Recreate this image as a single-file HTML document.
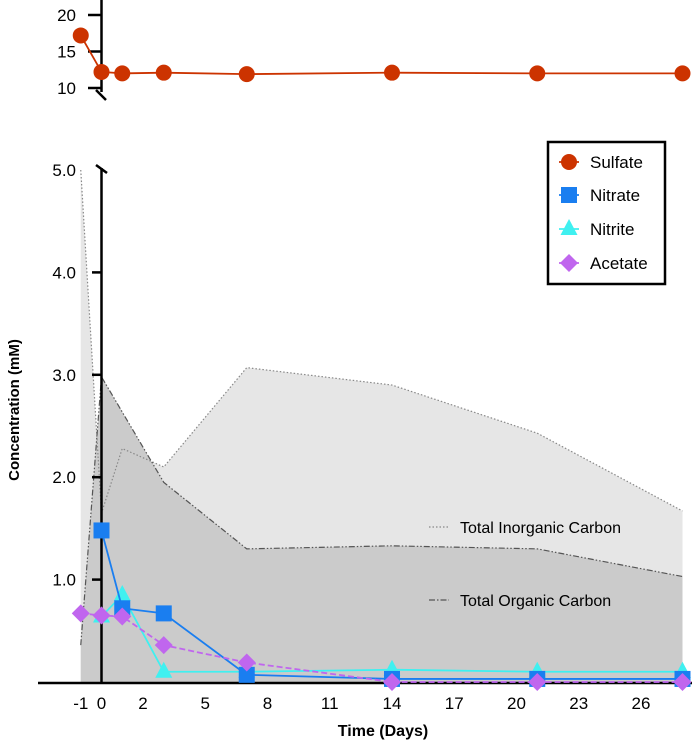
<!DOCTYPE html>
<html><head><meta charset="utf-8"><style>
body{margin:0;background:#fff;}
svg{display:block;font-family:"Liberation Sans",Arial,sans-serif;}
</style></head><body>
<svg id="c" width="692" height="740" xmlns="http://www.w3.org/2000/svg"></svg>
<script>
const days=[-1,0,1,3,7,14,21,28];
const sulfate=[17.2,12.2,12.0,12.1,11.9,12.1,12.0,12.0];
const nitrateDays=[0,1,3,7,14,21,28];
const nitrate=[1.48,0.72,0.67,0.07,0.03,0.03,0.03];
const nitriteDays=[0,1,3,7,14,21,28];
const nitrite=[0.64,0.85,0.1,0.1,0.12,0.1,0.1];
const acetateDays=[-1,0,1,3,7,14,21,28];
const acetate=[0.67,0.65,0.64,0.36,0.19,0.0,0.0,0.0];
const ticDays=[-1,0,1,3,7,14,21,28];
const tic=[5.0,1.65,2.28,2.1,3.07,2.9,2.43,1.67];
const tocDays=[-1,0,3,7,14,21,28];
const toc=[0.36,2.98,1.95,1.3,1.33,1.3,1.03];
const xTicks=[-1,0,2,5,8,11,14,17,20,23,26];
const yTicks=[1,2,3,4,5];
const yTickLabels=["1.0","2.0","3.0","4.0","5.0"];
const topTicks=[10,15,20];

const NS="http://www.w3.org/2000/svg";
const svg=document.getElementById('c');
const X=d=>101.5+d*20.75;
const Y=v=>682-v*102.4;
const YT=v=>88-(v-10)*7.3;
function el(tag,attrs,parent){const e=document.createElementNS(NS,tag);for(const k in attrs)e.setAttribute(k,attrs[k]);(parent||svg).appendChild(e);return e;}
function pts(xs,ys,fy){return xs.map((d,i)=>X(d)+','+fy(ys[i])).join(' ');}

let a=el('polygon',{points:pts(ticDays,tic,Y)+' '+X(28)+','+Y(0)+' '+X(-1)+','+Y(0),fill:'#e6e6e6'});

a=el('polygon',{points:pts(tocDays,toc,Y)+' '+X(28)+','+Y(0)+' '+X(-1)+','+Y(0),fill:'#cbcbcb'});

a=el('polyline',{points:pts(ticDays,tic,Y),fill:'none',stroke:'#888','stroke-width':1.2,'stroke-dasharray':'1.5,2'});

a=el('polyline',{points:pts(tocDays,toc,Y),fill:'none',stroke:'#555','stroke-width':1.2,'stroke-dasharray':'6,2,1.5,2,1.5,2'});


a=el('line',{x1:38,y1:683,x2:692,y2:683,stroke:'#000','stroke-width':2.5});

a=el('line',{x1:101.5,y1:168,x2:101.5,y2:683,stroke:'#000','stroke-width':2.5});

el('line',{x1:96,y1:165,x2:107,y2:173,stroke:'#000','stroke-width':2.5});
yTicks.forEach((v,i)=>{
 if(v<5){const t=el('line',{x1:92,y1:Y(v),x2:101,y2:Y(v),stroke:'#000','stroke-width':2.5});
 }
 const l=el('text',{x:76,y:Y(v)+6,'text-anchor':'end','font-size':17});l.textContent=yTickLabels[i];
 
});
xTicks.forEach(d=>{const l=el('text',{x:X(d),y:709,'text-anchor':'middle','font-size':17});l.textContent=d;
 });
a=el('text',{x:383,y:736,'text-anchor':'middle','font-size':16,'font-weight':'bold'});a.textContent='Time (Days)';

a=el('text',{x:0,y:0,'text-anchor':'middle','font-size':15,'font-weight':'bold',transform:'translate(19,410) rotate(-90)'});a.textContent='Concentration (mM)';


a=el('line',{x1:101.5,y1:0,x2:101.5,y2:92,stroke:'#000','stroke-width':2.5});

el('line',{x1:96,y1:90,x2:106,y2:100,stroke:'#000','stroke-width':2.5});
topTicks.forEach(v=>{const t=el('line',{x1:88,y1:YT(v),x2:101,y2:YT(v),stroke:'#000','stroke-width':2.5});
 
 const l=el('text',{x:76,y:YT(v)+6,'text-anchor':'end','font-size':17});l.textContent=v;
 });

function marker(type,x,y,color,name){let m;
 if(type==='c')m=el('circle',{cx:x,cy:y,r:8,fill:color});
 else if(type==='s')m=el('rect',{x:x-8,y:y-8,width:16,height:16,fill:color});
 else if(type==='t')m=el('polygon',{points:`${x},${y-10} ${x+8.5},${y+6} ${x-8.5},${y+6}`,fill:color});
 else m=el('polygon',{points:`${x},${y-9} ${x+9},${y} ${x},${y+9} ${x-9},${y}`,fill:color});
 }
function series(xs,ys,fy,color,type,name,dash){
 const l=el('polyline',{points:pts(xs,ys,fy),fill:'none',stroke:color,'stroke-width':1.8});
 if(dash)l.setAttribute('stroke-dasharray',dash);
 
 xs.forEach((d,i)=>marker(type,X(d),fy(ys[i]),color,name+'-point'));}
series(nitriteDays,nitrite,Y,'#3ff0f0','t','nitrite');
series(nitrateDays,nitrate,Y,'#1a7ef0','s','nitrate');
series(acetateDays,acetate,Y,'#c066ee','d','acetate','6,3');
series(days,sulfate,YT,'#cc3300','c','sulfate');

a=el('rect',{x:548,y:142,width:117,height:142,fill:'#fff',stroke:'#000','stroke-width':2.5});

[['Sulfate','#cc3300','c',162],['Nitrate','#1a7ef0','s',195],['Nitrite','#3ff0f0','t',229],['Acetate','#c066ee','d',263]].forEach(e=>{
 el('line',{x1:559,y1:e[3],x2:579,y2:e[3],stroke:e[1],'stroke-width':1.8});
 marker(e[2],569,e[3],e[1],'legend-marker');
 const t=el('text',{x:590,y:e[3]+6,'font-size':17});t.textContent=e[0];
 });

el('line',{x1:429,y1:527,x2:448,y2:527,stroke:'#888','stroke-width':1.2,'stroke-dasharray':'1.5,2'});
a=el('text',{x:460,y:533,'font-size':16});a.textContent='Total Inorganic Carbon';

el('line',{x1:429,y1:600,x2:449,y2:600,stroke:'#555','stroke-width':1.2,'stroke-dasharray':'6,2,1.5,2'});
a=el('text',{x:460,y:606,'font-size':16});a.textContent='Total Organic Carbon';

</script>
</body></html>
